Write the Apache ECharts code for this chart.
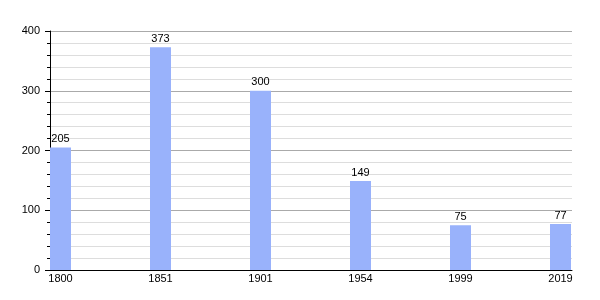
<!DOCTYPE html>
<html><head><meta charset="utf-8">
<script src="https://cdn.jsdelivr.net/npm/echarts@6/dist/echarts.min.js"></script>
<style>html,body{margin:0;padding:0;background:#fff}#c{width:600px;height:300px}</style>
</head><body><div id="c"></div>
<script>
const years = ['1800','1851','1901','1954','1999','2019'];
const population = [205, 373, 300, 149, 75, 77];
const yTicks = {min: 0, max: 400, interval: 100};

const chart = echarts.init(document.getElementById('c'), null, {renderer: 'canvas'});
const font = 'Liberation Sans, Arial, sans-serif';
chart.setOption({
  animation: false,
  grid: [
    {left: 50, right: 28, top: 31, bottom: 30, outerBoundsMode: 'none'},
    {left: 10.5, right: -10.5, top: 31, bottom: 30, outerBoundsMode: 'none'}
  ],
  xAxis: [
    {gridIndex: 0, type: 'category', data: years, boundaryGap: true,
     axisLine: {show: true, lineStyle: {color: '#000', width: 1}},
     axisTick: {show: false}, axisLabel: {show: false}, splitLine: {show: false}},
    {gridIndex: 1, type: 'category', data: years, boundaryGap: true,
     axisLine: {show: false}, axisTick: {show: false},
     axisLabel: {show: true, color: '#000', fontSize: 11, fontFamily: font, margin: 3}}
  ],
  yAxis: [
    {gridIndex: 0, type: 'value', min: yTicks.min, max: yTicks.max, interval: yTicks.interval,
     axisLine: {show: true, lineStyle: {color: '#000', width: 1}},
     axisTick: {show: true, length: 5, lineStyle: {color: '#000'}},
     minorTick: {show: true, splitNumber: 5, length: 3, lineStyle: {color: '#000'}},
     axisLabel: {color: '#000', fontSize: 11, fontFamily: font, margin: 10},
     splitLine: {show: true, lineStyle: {color: '#aaaaaa', width: 1}},
     minorSplitLine: {show: true, lineStyle: {color: '#dddddd', width: 1}}},
    {gridIndex: 1, type: 'value', min: yTicks.min, max: yTicks.max, show: false,
     splitLine: {show: false}}
  ],
  series: [{
    type: 'bar', xAxisIndex: 1, yAxisIndex: 1, data: population, barWidth: 21,
    itemStyle: {color: '#99b2fb'},
    label: {show: true, position: 'top', distance: 3, color: '#000', fontSize: 11, fontFamily: font}
  }]
});
</script></body></html>
